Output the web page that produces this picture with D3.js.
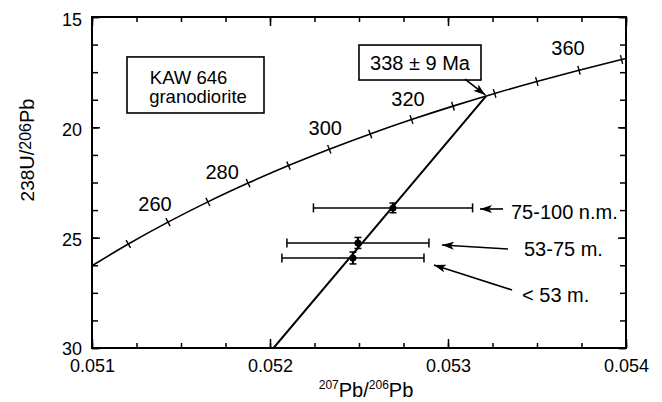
<!DOCTYPE html>
<html><head><meta charset="utf-8">
<script src="https://cdn.jsdelivr.net/npm/d3@7"></script>
<style>
html,body{margin:0;padding:0;background:#fff;}
svg{display:block;font-family:"Liberation Sans",Arial,Helvetica,sans-serif;}
</style></head><body>
<svg id="chart" width="662" height="402"></svg>
<script>
// ---- data ----
// Concordia curve (Tera-Wasserburg), age in Ma
const concordiaAges = [240,250,260,270,280,290,300,310,320,330,340,350,360,370,380];
const concordiaX = [0.050982,0.051204,0.051427,0.051651,0.051877,0.052104,0.052333,0.052563,0.052795,0.053028,0.053262,0.053499,0.053736,0.053975,0.054216];
const concordiaY = [26.363,25.289,24.297,23.379,22.527,21.733,20.992,20.299,19.649,19.039,18.464,17.923,17.411,16.928,16.469];
const tickAges = [250,260,270,280,290,300,310,320,330,340,350,360,370];
const labelAges = [260,280,300,320,360];

// Zircon fractions
const fractions = ["75-100 n.m.","53-75 m.","< 53 m."];
const pb207pb206 = [0.052691,0.052494,0.052466];
const u238pb206 = [23.65,25.24,25.92];
const pbErr = [0.000447,0.000399,0.000399];
const uErr = [0.22,0.25,0.27];

// Discordia
const discordiaX = [0.05202,0.053215];
const discordiaY = [30,18.579];
const interceptLabel = "338 ± 9 Ma";
const sampleLines = ["KAW 646","granodiorite"];

// Axes
const xMajor = [0.051,0.052,0.053,0.054];
const yMajor = [15,20,25,30];

// ---- layout ----
const W=662,H=402;
const L=92,R=626,T=17,B=348;
const svg=d3.select("#chart");
const x=d3.scaleLinear().domain([0.051,0.054]).range([L,R]);
const y=d3.scaleLinear().domain([15,30]).range([T,B]);

const xMinor=d3.range(0,13).map(i=>0.051+i*0.00025);
const yMinor=d3.range(0,13).map(i=>15+i*1.25);

svg.append("defs").append("clipPath").attr("id","clip")
  .append("rect").attr("x",L).attr("y",T).attr("width",R-L).attr("height",B-T);
const mk=svg.select("defs").append("marker").attr("id","arr")
  .attr("viewBox","0 0 12 8").attr("refX",12).attr("refY",4)
  .attr("markerWidth",12).attr("markerHeight",8).attr("markerUnits","userSpaceOnUse")
  .attr("orient","auto");
mk.append("path").attr("d","M0,0 L12,4 L0,8 L3,4 Z").attr("fill","#000");

function styleAxis(g){g.select(".domain").remove();g.selectAll("line").attr("stroke","#000").attr("stroke-width",1.5);}

// minor ticks
svg.append("g").attr("transform",`translate(0,${B})`).call(d3.axisBottom(x).tickValues(xMinor).tickSize(-5).tickFormat("")).call(styleAxis);
svg.append("g").attr("transform",`translate(0,${T})`).call(d3.axisTop(x).tickValues(xMinor).tickSize(-5).tickFormat("")).call(styleAxis);
svg.append("g").attr("transform",`translate(${L},0)`).call(d3.axisLeft(y).tickValues(yMinor).tickSize(-6).tickFormat("")).call(styleAxis);
svg.append("g").attr("transform",`translate(${R},0)`).call(d3.axisRight(y).tickValues(yMinor).tickSize(-6).tickFormat("")).call(styleAxis);
// major ticks with labels
const gxb=svg.append("g").attr("transform",`translate(0,${B})`)
  .call(d3.axisBottom(x).tickValues(xMajor).tickSize(-9).tickPadding(11).tickFormat(d3.format(".3f"))).call(styleAxis);
gxb.selectAll("text").attr("font-size",18).attr("font-family","Liberation Sans, Arial, sans-serif").attr("fill","#000");
svg.append("g").attr("transform",`translate(0,${T})`).call(d3.axisTop(x).tickValues(xMajor).tickSize(-9).tickFormat("")).call(styleAxis);
const gyl=svg.append("g").attr("transform",`translate(${L},0)`)
  .call(d3.axisLeft(y).tickValues(yMajor).tickSize(-8).tickPadding(10).tickFormat(d3.format("d"))).call(styleAxis);
gyl.selectAll("text").attr("font-size",18).attr("dy",d=>d===30?"0.36em":"0.46em").attr("font-family","Liberation Sans, Arial, sans-serif").attr("fill","#000");
svg.append("g").attr("transform",`translate(${R},0)`).call(d3.axisRight(y).tickValues(yMajor).tickSize(-8).tickFormat("")).call(styleAxis);

// frame
svg.append("rect").attr("x",L).attr("y",T).attr("width",R-L).attr("height",B-T)
  .attr("fill","none").attr("stroke","#000").attr("stroke-width",2);

// axis titles
const xt=svg.append("text").attr("x",366).attr("y",397).attr("text-anchor","middle").attr("font-size",20).attr("fill","#000");
xt.append("tspan").attr("font-size",12).attr("dy",-8).text("207");
xt.append("tspan").attr("dy",8).text("Pb/");
xt.append("tspan").attr("font-size",12).attr("dy",-8).text("206");
xt.append("tspan").attr("dy",8).text("Pb");
const yt=svg.append("text").attr("transform","translate(34,150) rotate(-90)").attr("text-anchor","middle").attr("font-size",20).attr("fill","#000");
yt.append("tspan").attr("font-size",19).text("238");
yt.append("tspan").text("U/");
yt.append("tspan").attr("font-size",16).attr("dy",-3).text("206");
yt.append("tspan").attr("dy",3).text("Pb");

const plot=svg.append("g").attr("clip-path","url(#clip)");

// concordia
const conc=concordiaAges.map((a,i)=>({age:a,x:concordiaX[i],y:concordiaY[i]}));
plot.append("path").datum(conc).attr("fill","none").attr("stroke","#000").attr("stroke-width",1.6)
  .attr("d",d3.line().x(d=>x(d.x)).y(d=>y(d.y)).curve(d3.curveMonotoneX));
// concordia age ticks
tickAges.forEach(a=>{
  const i=concordiaAges.indexOf(a);
  const p0=conc[i-1],p1=conc[i+1],p=conc[i];
  const dx=x(p1.x)-x(p0.x),dy=y(p1.y)-y(p0.y),len=Math.hypot(dx,dy);
  const nx=-dy/len*4.5,ny=dx/len*4.5;
  const px=x(p.x),py=y(p.y);
  plot.append("line").attr("x1",px-nx).attr("y1",py-ny).attr("x2",px+nx).attr("y2",py+ny)
    .attr("stroke","#000").attr("stroke-width",1.4);
});
// age labels
const labelOffsets={260:[-13,-11],280:[-26,-4],300:[-4,-14],320:[-3.5,-13.6],360:[-11,-15]};
labelAges.forEach(a=>{
  const i=concordiaAges.indexOf(a);
  svg.append("text").attr("x",x(concordiaX[i])+labelOffsets[a][0]).attr("y",y(concordiaY[i])+labelOffsets[a][1])
    .attr("text-anchor","middle").attr("font-size",20).attr("fill","#000").text(a);
});

// discordia
plot.append("line").attr("x1",x(discordiaX[0])).attr("y1",y(discordiaY[0]))
  .attr("x2",x(discordiaX[1])).attr("y2",y(discordiaY[1])).attr("stroke","#000").attr("stroke-width",2);

// data points with error bars
fractions.forEach((f,i)=>{
  const cx=x(pb207pb206[i]),cy=y(u238pb206[i]);
  const xl=x(pb207pb206[i]-pbErr[i]),xr=x(pb207pb206[i]+pbErr[i]);
  const yt2=y(u238pb206[i]-uErr[i]),yb=y(u238pb206[i]+uErr[i]);
  const g=plot.append("g").attr("stroke","#000").attr("stroke-width",1.5);
  g.append("line").attr("x1",xl).attr("x2",xr).attr("y1",cy).attr("y2",cy);
  g.append("line").attr("x1",xl).attr("x2",xl).attr("y1",cy-4.5).attr("y2",cy+4.5);
  g.append("line").attr("x1",xr).attr("x2",xr).attr("y1",cy-4.5).attr("y2",cy+4.5);
  g.append("line").attr("x1",cx).attr("x2",cx).attr("y1",yt2).attr("y2",yb).attr("stroke-width",2);
  g.append("line").attr("x1",cx-3.5).attr("x2",cx+3.5).attr("y1",yt2).attr("y2",yt2);
  g.append("line").attr("x1",cx-3.5).attr("x2",cx+3.5).attr("y1",yb).attr("y2",yb);
  g.append("ellipse").attr("cx",cx).attr("cy",cy).attr("rx",3.5).attr("ry",3.5).attr("fill","#000").attr("stroke","none");
});

// fraction labels and arrows (positions in data units)
const fracText=[[0.053354,24.153],[0.053427,25.829],[0.053416,27.913]];
const fracArrow=[[[0.053309,23.70],[0.053180,23.70]],[[0.053337,25.512],[0.052966,25.331]],[[0.053360,27.37],[0.052921,26.237]]];
fractions.forEach((f,i)=>{
  svg.append("text").attr("x",x(fracText[i][0])).attr("y",y(fracText[i][1])).attr("font-size",20).attr("fill","#000").text(f);
  const a=fracArrow[i];
  svg.append("line").attr("x1",x(a[0][0])).attr("y1",y(a[0][1])).attr("x2",x(a[1][0])).attr("y2",y(a[1][1]))
    .attr("stroke","#000").attr("stroke-width",1.6).attr("marker-end","url(#arr)");
});

// sample box
const bx0=x(0.0511966),bx1=x(0.0519663),by0=y(16.81),by1=y(19.35);
svg.append("rect").attr("x",bx0).attr("y",by0).attr("width",bx1-bx0).attr("height",by1-by0)
  .attr("fill","#fff").attr("stroke","#000").attr("stroke-width",1.6);
svg.append("text").attr("x",x(0.0515427)).attr("y",y(18.03)).attr("text-anchor","middle").attr("font-size",18.5).attr("fill","#000").text(sampleLines[0]);
svg.append("text").attr("x",x(0.0515955)).attr("y",y(18.90)).attr("text-anchor","middle").attr("font-size",18.5).attr("fill","#000").text(sampleLines[1]);

// intercept box + arrow
const ix0=x(0.0524999),ix1=x(0.0531854),iy0=y(16.27),iy1=y(17.856);
svg.append("rect").attr("x",ix0).attr("y",iy0).attr("width",ix1-ix0).attr("height",iy1-iy0)
  .attr("fill","#fff").attr("stroke","#000").attr("stroke-width",1.6);
svg.append("text").attr("x",(ix0+ix1)/2).attr("y",y(17.40)).attr("text-anchor","middle").attr("font-size",20).attr("fill","#000").text(interceptLabel);
svg.append("line").attr("x1",x(0.0530955)).attr("y1",y(17.81)).attr("x2",x(discordiaX[1])-1).attr("y2",y(discordiaY[1])-1)
  .attr("stroke","#000").attr("stroke-width",1.6).attr("marker-end","url(#arr)");
</script>
</body></html>
